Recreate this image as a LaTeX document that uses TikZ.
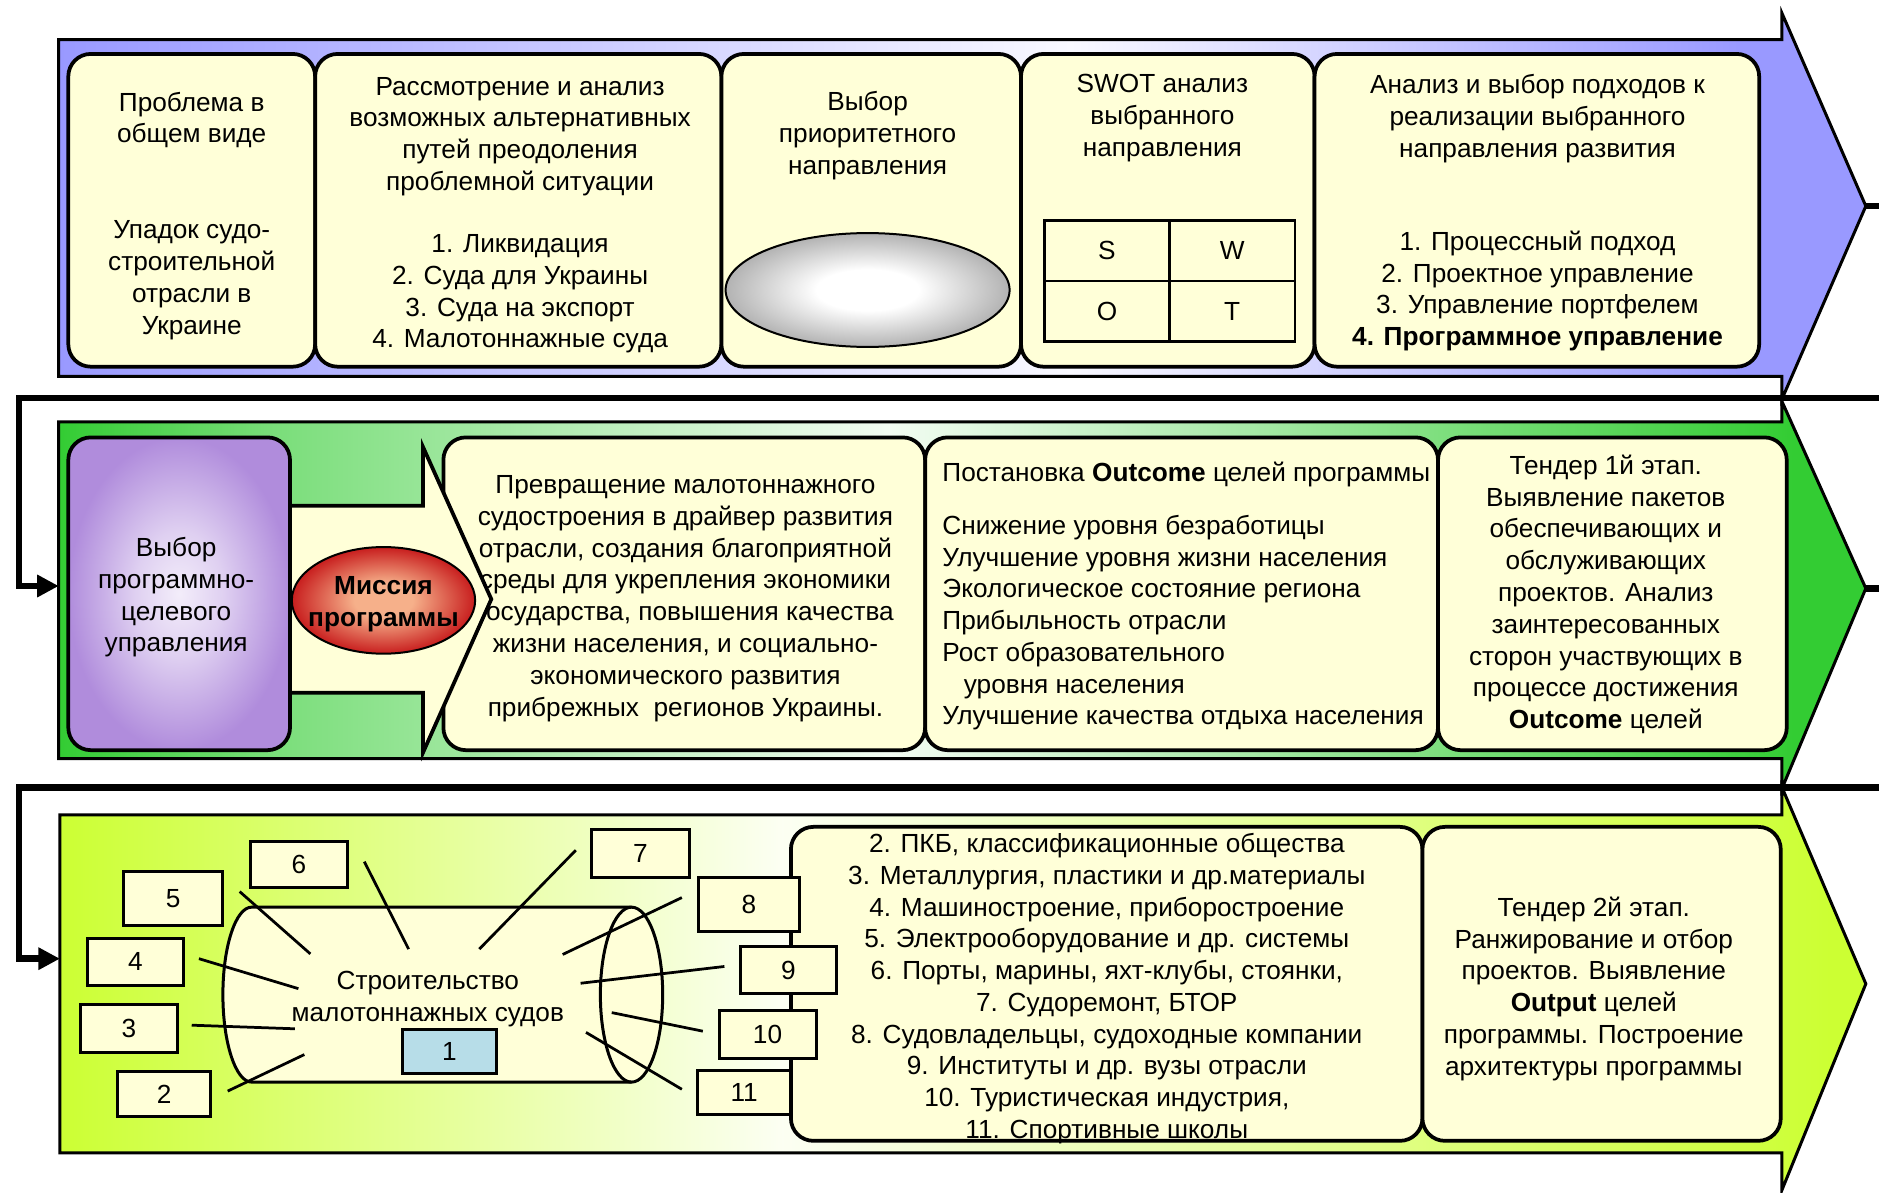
\documentclass[tikz,border=0pt]{standalone}
\usepackage{fontspec}
\setmainfont{Liberation Sans}
\usetikzlibrary{arrows.meta,positioning,shapes.geometric}
\newcommand{\pxl}{0.48pt}
\definecolor{Cream}{HTML}{FFFFD8}
\definecolor{Peri}{HTML}{9999FF}
\definecolor{Leaf}{HTML}{33CC33}
\definecolor{Lime}{HTML}{CCFF33}
\definecolor{Lav}{HTML}{B08CDC}
\definecolor{LavLight}{HTML}{F3EDFA}
\definecolor{Ember}{HTML}{C81E1E}
\definecolor{Peach}{HTML}{F6B08A}
\definecolor{Steel}{HTML}{B7DDE8}
% the middle 50bp of a shading covers the shaded path
\pgfdeclarehorizontalshading{periband}{100bp}{color(0bp)=(Peri); color(25bp)=(Peri); color(53bp)=(Peri!6!white); color(71.5bp)=(Peri); color(100bp)=(Peri)}
\pgfdeclarehorizontalshading{leafband}{100bp}{color(0bp)=(Leaf); color(25bp)=(Leaf); color(31bp)=(Leaf!65!white); color(48bp)=(Leaf!6!white); color(73bp)=(Leaf); color(100bp)=(Leaf)}
\pgfdeclarehorizontalshading{limeband}{100bp}{color(0bp)=(Lime); color(25bp)=(Lime); color(45bp)=(Lime!6!white); color(74bp)=(Lime); color(100bp)=(Lime)}
\pgfdeclareradialshading{lavbox}{\pgfpointorigin}{color(0bp)=(LavLight); color(10bp)=(LavLight!70!Lav); color(25bp)=(Lav); color(50bp)=(Lav)}
\pgfdeclareradialshading{ball}{\pgfpointorigin}{color(0bp)=(Peach); color(8bp)=(Peach); color(25bp)=(Ember); color(50bp)=(Ember)}
\pgfdeclareradialshading{pebble}{\pgfpointorigin}{color(0bp)=(white); color(9bp)=(white); color(25bp)=(gray!60); color(50bp)=(gray!60)}
\tikzset{band/.style={draw=black,line width=1.2pt},card/.style={draw=black,line width=1.5pt,fill=Cream,rounded corners=9pt,inner sep=0pt,outer sep=0pt,minimum height=261*\pxl},txt/.style={align=center,inner sep=0pt},cell/.style={draw=black,line width=1pt,minimum width=104.5*\pxl,minimum height=50.5*\pxl,inner sep=0pt,outer sep=0pt},numbox/.style={draw=black,line width=1.2pt,fill=Cream,inner sep=0pt,outer sep=0pt,minimum width=81*\pxl,minimum height=40*\pxl},spoke/.style={line width=1.1pt},loopline/.style={line width=2.6pt,-{Triangle[length=8.6pt,width=8.5pt]}}}

\begin{document}
\begin{tikzpicture}[x=\pxl,y=-\pxl,every node/.style={font=\fontsize{10.5}{12.72}\selectfont}]
      \useasboundingbox (0,0) rectangle (1568,995);
      \clip (0,0) rectangle (1568,995);
      % three stages
      \shadedraw[band,shading=periband] (49,33) -- (1487,33) -- (1487,11) -- (1557,172) -- (1487,333) -- (1487,314) -- (49,314) -- cycle;
      \shadedraw[band,shading=leafband] (49,352) -- (1487,352) -- (1487,335) -- (1557,491) -- (1487,658) -- (1487,633) -- (49,633) -- cycle;
      \shadedraw[band,shading=limeband] (50,680) -- (1487,680) -- (1487,657) -- (1557,821) -- (1487,993) -- (1487,962) -- (50,962) -- cycle;
      \coordinate (tip1) at (1557,172);\coordinate (tip2) at (1557,491);
      \coordinate (in2) at (49,489);\coordinate (in3) at (50,800);
      \draw[loopline](tip1)--(1600,172)--(1600,332)--(16,332)--(16,489)--(in2);
      \draw[loopline](tip2)--(1600,491)--(1600,657)--(16,657)--(16,800)--(in3);
      % stage 1
      \node[card,minimum width=206*\pxl](problem) at (160,175.5){};
      \node[card,minimum width=339*\pxl,right=0pt of problem](options){};
      \node[card,minimum width=250*\pxl,right=0pt of options](priority){};
      \node[card,minimum width=245*\pxl,right=0pt of priority](swot){};
      \node[card,minimum width=371*\pxl,right=0pt of swot](approach){};
      \node[txt](problemText) at (160,180){Проблема в\\общем виде\\[25.7pt]Упадок судо-\\строительной\\отрасли в\\Украине};
      \node[txt](optionsText) at (434,179.5){Рассмотрение и анализ\\возможных альтернативных\\путей преодоления\\проблемной ситуации\\[12.2pt]1. Ликвидация\\2. Суда для Украины\\3. Суда на экспорт\\4. Малотоннажные суда};
      \node[txt](priorityText) at (724,113){Выбор\\приоритетного\\направления};
      \node[ellipse,draw,line width=.8pt,shade,shading=pebble,minimum width=237*\pxl,minimum height=95*\pxl](oval) at (724,242){};
      \node[txt](swotText) at (970,98.5){SWOT анализ\\выбранного\\направления};
      \node[cell](swS) at (923.75,209.25){S};\node[cell,right=0pt of swS](swW){W};
      \node[cell,below=0pt of swS](swO){O};\node[cell,right=0pt of swO](swT){T};
      \node[txt](approachText) at (1283,177.5){Анализ и выбор подходов к\\реализации выбранного\\направления развития\\[24.7pt]1. Процессный подход\\2. Проектное управление\\3. Управление портфелем\\\textbf{4. Программное управление}};
      % stage 2
      \node[card,minimum width=402*\pxl](vision) at (571,495.5){};
      \node[card,minimum width=428*\pxl,right=0pt of vision](outcome){};
      \node[card,minimum width=291*\pxl,right=0pt of outcome](tender1){};
      \node[txt](visionText) at (572,499.5){Превращение малотоннажного\\судостроения в драйвер развития\\отрасли, создания благоприятной\\среды для укрепления экономики\\государства, повышения качества\\жизни населения, и социально-\\экономического развития\\прибрежных\ \ регионов Украины.};
      \node[txt,align=left,anchor=west](outcomeText) at (786,497.5){Постановка \textbf{Outcome} целей программы\\[8.4pt]Снижение уровня безработицы\\Улучшение уровня жизни населения\\Экологическое состояние региона\\Прибыльность отрасли\\Рост образовательного\\\hspace*{8.6pt}уровня населения\\Улучшение качества отдыха населения};
      \node[txt](tender1Text) at (1340,496){Тендер 1й этап.\\Выявление пакетов\\обеспечивающих и\\обслуживающих\\проектов. Анализ\\заинтересованных\\сторон участвующих в\\процессе достижения\\\textbf{Outcome} целей};
      \draw[line width=1.5pt,fill=Cream](242,422)--(353,422)--(353,373)--(410,500)--(353,628)--(353,578)--(242,578)--cycle;
      \node[card,minimum width=185*\pxl,shade,shading=lavbox](choose) at (149.5,495.5){};
      \node[txt](chooseText) at (147,498.5){Выбор\\программно-\\целевого\\управления};
      \node[ellipse,draw,line width=.8pt,shade,shading=ball,minimum width=153*\pxl,minimum height=89*\pxl](mission) at (320,501){};
      \node[txt](missionText) at (320,504.5){\textbf{Миссия}\\\textbf{программы}};
      % stage 3
      \node[card,minimum width=527*\pxl,minimum height=262*\pxl](parties) at (923.5,821){};
      \node[card,minimum width=299*\pxl,minimum height=262*\pxl,right=0pt of parties](tender2){};
      \node[txt](partiesText) at (923.6,825){2. ПКБ, классификационные общества\\3. Металлургия, пластики и др.материалы\\4. Машиностроение, приборостроение\\5. Электрооборудование и др. системы\\6. Порты, марины, яхт-клубы, стоянки,\\7. Судоремонт, БТОР\\8. Судовладельцы, судоходные компании\\9. Институты и др. вузы отрасли\\10. Туристическая индустрия,\\11. Спортивные школы};
      \node[txt](tender2Text) at (1330,825){Тендер 2й этап.\\Ранжирование и отбор\\проектов. Выявление\\\textbf{Output} целей\\программы. Построение\\архитектуры программы};
      \filldraw[fill=Cream,line width=1.2pt](210,757)--(527,757) arc[start angle=90,end angle=-90,x radius=12.48pt,y radius=35.04pt]--(210,903) arc[start angle=270,end angle=90,x radius=11.52pt,y radius=35.04pt]--cycle;
      \draw[line width=1.2pt](527,757) arc[start angle=90,end angle=270,x radius=12.48pt,y radius=35.04pt];
      \node[txt](hull) at (357,833.5){Строительство\\малотоннажных судов};
      \node[numbox,fill=Steel,minimum width=79*\pxl,minimum height=36*\pxl](b1) at (375,877.5){1};
      \node[numbox,minimum width=78*\pxl,minimum height=38*\pxl](b2) at (137,913){2};
      \node[numbox](b3) at (107.5,858){3};
      \node[numbox,minimum width=80*\pxl,minimum height=39*\pxl](b4) at (113,802.5){4};
      \node[numbox,minimum width=83*\pxl,minimum height=45*\pxl](b5) at (144.5,749.5){5};
      \node[numbox,minimum height=39*\pxl](b6) at (249.5,721.5){6};
      \node[numbox](b7) at (534.5,712){7};
      \node[numbox,minimum width=84*\pxl,minimum height=45*\pxl](b8) at (625,754.5){8};
      \node[numbox,minimum width=80*\pxl,minimum height=39*\pxl](b9) at (658,809.5){9};
      \node[numbox](b10) at (640.5,863){10};
      \node[numbox,minimum width=78*\pxl,minimum height=37*\pxl](b11) at (621,911.5){11};
      \coordinate (e2) at (254,880);\coordinate (e3) at (246,858.5);\coordinate (e4) at (249,825);
      \coordinate (e5) at (259,796);\coordinate (e6) at (341,792);\coordinate (e7) at (400,792);
      \coordinate (e8) at (469.5,796.5);\coordinate (e9) at (484.5,820.5);\coordinate (e10) at (510.5,845);
      \coordinate (e11) at (489,861.5);
      \draw[spoke]([shift={(14,-2.5)}]b2.east)--(e2);\draw[spoke]([shift={(12,-2.5)}]b3.east)--(e3);
      \draw[spoke]([shift={(13,-2.5)}]b4.east)--(e4);\draw[spoke]([shift={(14,-5.5)}]b5.east)--(e5);
      \draw[spoke]([shift={(14,-2.5)}]b6.east)--(e6);\draw[spoke]([shift={(-13.5,-2.5)}]b7.west)--(e7);
      \draw[spoke]([shift={(-14,-5.5)}]b8.west)--(e8);\draw[spoke]([shift={(-13.5,-3)}]b9.west)--(e9);
      \draw[spoke]([shift={(-13.5,-2.5)}]b10.west)--(e10);\draw[spoke]([shift={(-13,-2.5)}]b11.west)--(e11);
    \end{tikzpicture}
\end{document}
